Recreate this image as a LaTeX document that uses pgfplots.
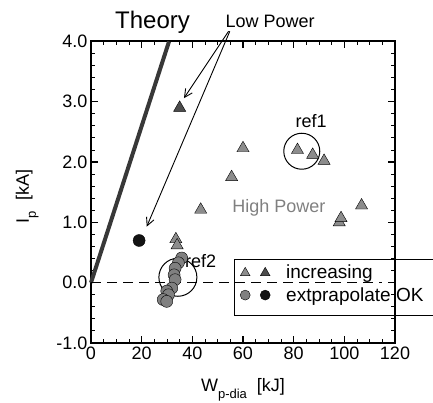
\documentclass[border=0pt]{standalone}
\usepackage{fontspec}
\setmainfont{Liberation Sans}
\usepackage{pgfplots}
\pgfplotsset{compat=1.18}
\usetikzlibrary{arrows.meta}

\definecolor{trigray}{gray}{0.55}
\definecolor{tridark}{gray}{0.30}
\definecolor{circgray}{gray}{0.50}
\definecolor{circdark}{gray}{0.08}
\definecolor{theoryc}{gray}{0.22}

\begin{document}
\begin{tikzpicture}
\useasboundingbox (-91pt,-60pt) rectangle (342pt,343pt);
\begin{axis}[
  scale only axis, width=304pt, height=301.5pt,
  at={(0,0)}, anchor=south west,
  xmin=0, xmax=120, ymin=-1, ymax=4,
  xtick={0,20,...,120}, xticklabels={0,20,40,60,80,100,120},
  ytick={-1,0,...,4}, yticklabels={-1.0,0.0,1.0,2.0,3.0,4.0},
  minor x tick num=3, minor y tick num=4,
  tick align=inside,
  major tick length=7pt, minor tick length=4pt,
  every major tick/.style={black, line width=1.2pt},
  every minor tick/.style={black, line width=1pt},
  axis line style={line width=2pt},
  tick label style={font=\fontsize{18}{18}\selectfont},
  xlabel={W\raisebox{-7pt}{\fontsize{13}{13}\selectfont p-dia}\ \ [kJ]},
  ylabel={I\raisebox{-7pt}{\fontsize{13}{13}\selectfont p}\ \ [kA]},
  label style={font=\fontsize{18}{18}\selectfont},
  xlabel style={at={(axis description cs:0.5,-0.1625)}, anchor=base},
  ylabel style={at={(axis description cs:-0.204,0.486)}, anchor=base},
  clip=false,
  legend style={at={(axis description cs:0.4704,0.2753)}, anchor=north west,
    draw=none, fill=none, inner xsep=0pt, inner ysep=3pt,
    font=\fontsize{19}{19}\selectfont, row sep=3pt},
  legend cell align=left,
]

% theory line
\addplot[theoryc, line width=4pt, forget plot] coordinates {(0,0) (30.8,4)};

% zero line
\addplot[black, line width=1pt, dash pattern=on 10pt off 6pt, forget plot]
  coordinates {(0,0) (115,0)};

% high power, increasing
\addplot[only marks, mark=triangle*, mark size=7pt,
  mark options={fill=trigray, draw=none}, forget plot] coordinates {
  (43.3,1.21) (55.5,1.75) (60,2.23) (81.5,2.2) (87.5,2.12) (92,2.02)
  (98,1.0) (98.7,1.07) (106.8,1.28) (33.5,0.72) (34,0.62)};

% low power, increasing
\addplot[only marks, mark=triangle*, mark size=7pt,
  mark options={fill=tridark, draw=none}, forget plot] coordinates {(35,2.9)};

% high power, extrapolate OK
\addplot[only marks, mark=*, mark size=6pt,
  mark options={fill=circgray, draw=none}, forget plot] coordinates {
  (35.8,0.41) (34.5,0.33) (33.2,0.24) (32.8,0.13) (33.2,0.05)
  (31.9,-0.09) (29.9,-0.14) (30.6,-0.2) (28.5,-0.28) (29.9,-0.31)};

% low power, extrapolate OK
\addplot[only marks, mark=*, mark size=6pt,
  mark options={fill=circdark, draw=none}, forget plot] coordinates {(19,0.7)};

\addlegendimage{legend image code/.code={
  \path[draw=none, fill=none] (0pt,-6pt) rectangle (50pt,6pt);
  \path[draw=none, mark=triangle*, mark size=5.5pt, mark options={fill=trigray, draw=none}] plot coordinates {(11pt,0pt)};
  \path[draw=none, mark=triangle*, mark size=5.5pt, mark options={fill=tridark, draw=none}] plot coordinates {(31pt,0pt)};
}}
\addlegendentry{increasing}
\addlegendimage{legend image code/.code={
  \path[draw=none, fill=none] (0pt,-6pt) rectangle (50pt,6pt);
  \path[draw=none, mark=*, mark size=5pt, mark options={fill=circgray, draw=none}] plot coordinates {(11pt,0pt)};
  \path[draw=none, mark=*, mark size=5pt, mark options={fill=circdark, draw=none}] plot coordinates {(31pt,0pt)};
}}
\addlegendentry{extprapolate OK}

% legend frame
\draw[line width=1pt] (axis description cs:0.4704,0.2753) rectangle (axis description cs:1.2,0.0896);

% annotations
\draw[line width=1pt] (axis cs:83.2,2.18) circle[radius=18pt];
\draw[line width=1pt] (axis cs:34.3,0.09) circle[radius=19pt];
\draw[line width=0.9pt, -{Straight Barb[length=8pt,width=8pt]}] (axis cs:54.3,4.17) -- (axis cs:36.7,3.06);
\draw[line width=0.9pt, -{Straight Barb[length=8pt,width=8pt]}] (axis cs:54.8,4.17) -- (axis cs:22.0,0.93);

\node[anchor=base, font=\fontsize{24}{24}\selectfont] at (axis cs:24.3,4.21) {Theory};
\node[anchor=base, font=\fontsize{18}{18}\selectfont] at (axis cs:70.7,4.24) {Low Power};
\node[anchor=base, font=\fontsize{18}{18}\selectfont, text=gray] at (axis cs:74.2,1.17) {High Power};
\node[anchor=base, font=\fontsize{18}{18}\selectfont] at (axis cs:86.9,2.57) {ref1};
\node[anchor=base, font=\fontsize{18}{18}\selectfont] at (axis cs:43.3,0.25) {ref2};

\end{axis}
\end{tikzpicture}
\end{document}
